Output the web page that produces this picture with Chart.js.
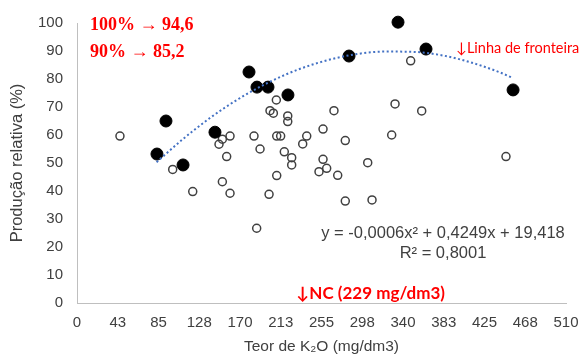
<!DOCTYPE html>
<html>
<head>
<meta charset="utf-8">
<script src="https://cdn.jsdelivr.net/npm/chart.js@4/dist/chart.umd.min.js"></script>
<style>
  html, body { margin: 0; padding: 0; background: #ffffff; }
  #wrap { width: 583px; height: 356px; position: relative; }
</style>
</head>
<body>
<div id="wrap"><canvas id="c" width="583" height="356"></canvas></div>
<script>
// ---- data ----
const xTickLabels = ['0','43','85','128','170','213','255','298','340','383','425','468','510'];

// frontier points (filled black)
const frontierX = [83.4, 92.8, 110.6, 143.9, 179.4, 187.7, 199.2, 220.0, 283.7, 334.8, 364.0, 454.8];
const frontierY = [53.2, 65.0, 49.3, 61.0, 82.5, 77.1, 77.1, 74.3, 88.2, 100.3, 90.7, 76.1];

// other points (open circles)
const otherX = [44.8, 99.8, 120.7, 148.1, 151.6, 159.6, 156.1, 151.6, 159.6, 184.6, 190.9, 187.4,
                207.9, 201.3, 204.8, 219.8, 219.8, 268.0, 348.0, 331.7, 359.5, 447.4,
                208.3, 212.4, 239.6, 235.4, 256.6, 279.8, 328.2, 216.2, 223.9, 223.9,
                256.6, 260.4, 252.4, 271.9, 303.2, 208.3, 200.3, 279.8, 307.7];
const otherY = [59.6, 47.7, 39.8, 56.7, 58.5, 59.6, 52.3, 43.3, 39.2, 59.6, 55.0, 26.7,
                72.5, 68.7, 67.8, 66.8, 64.8, 68.7, 86.5, 71.1, 68.6, 52.3,
                59.6, 59.6, 59.6, 56.8, 62.1, 58.0, 60.0, 54.0, 51.9, 49.3,
                51.3, 48.1, 46.9, 45.6, 50.1, 45.5, 38.8, 36.4, 36.8];

// frontier trend line (dotted)
const trendX = [83, 110, 140, 170, 200, 230, 260, 290, 320, 350, 380, 410, 440, 455];
const trendY = [50.3, 58.4, 66.4, 73.2, 78.8, 83.3, 86.6, 88.8, 89.8, 89.7, 88.5, 86.0, 82.5, 80.3];

const annot100 = '100% → 94,6';
const annot90 = '90% → 85,2';
const annotLine = '↓Linha de fronteira';
const ncValue = 229;
const annotNC = '↓NC (229 mg/dm3)';
const eqText = 'y = -0,0006x² + 0,4249x + 19,418';
const r2Text = 'R² = 0,8001';

const toPts = (xs, ys) => xs.map((x, i) => ({ x: x, y: ys[i] }));

const textPlugin = {
  id: 'texts',
  afterDatasetsDraw(chart) {
    const ctx = chart.ctx;
    const xs = chart.scales.x;
    ctx.save();
    ctx.textBaseline = 'middle';
    ctx.textAlign = 'left';
    ctx.fillStyle = '#ff0000';
    ctx.font = 'bold 18px "Liberation Serif"';
    ctx.fillText(annot100, 90, 25);
    ctx.fillText(annot90, 90, 52);
    ctx.font = '14.5px Lato';
    ctx.fillText(annotLine, 456, 48);
    ctx.font = 'bold 17px Lato';
    ctx.fillText(annotNC, xs.getPixelForValue(ncValue), 294);
    ctx.fillStyle = '#404040';
    ctx.textAlign = 'center';
    ctx.font = '16.5px "Liberation Sans"';
    ctx.fillText(eqText, 443, 233);
    ctx.fillText(r2Text, 443, 253);
    ctx.restore();
  }
};

new Chart(document.getElementById('c'), {
  type: 'scatter',
  data: {
    datasets: [
      {
        label: 'Linha de fronteira',
        data: toPts(trendX, trendY),
        showLine: true,
        borderColor: '#4472C4',
        borderWidth: 2,
        borderDash: [2, 2.5],
        pointRadius: 0,
        cubicInterpolationMode: 'monotone',
        fill: false,
        clip: false,
        order: 0
      },
      {
        label: 'Fronteira',
        data: toPts(frontierX, frontierY),
        backgroundColor: '#000000',
        borderColor: '#000000',
        borderWidth: 1,
        pointRadius: 6,
        clip: false,
        order: 1
      },
      {
        label: 'Outros',
        data: toPts(otherX, otherY),
        backgroundColor: 'rgba(0,0,0,0)',
        borderColor: '#404040',
        borderWidth: 1.5,
        pointRadius: 4,
        clip: false,
        order: 2
      }
    ]
  },
  options: {
    responsive: false,
    animation: false,
    events: [],
    layout: { padding: { left: 0, top: 23, right: 17, bottom: 0 } },
    plugins: { legend: { display: false }, tooltip: { enabled: false } },
    scales: {
      x: {
        type: 'linear',
        min: 0,
        max: 510,
        afterFit(scale) { scale.height = 53; scale.paddingRight = 0; scale.paddingLeft = 0; },
        grid: { display: true, color: 'rgba(0,0,0,0)', drawTicks: false },
        border: { display: true, color: '#bfbfbf', width: 1 },
        ticks: {
          stepSize: 42.5,
          autoSkip: false,
          maxRotation: 0,
          padding: 11,
          color: '#404040',
          font: { family: '"Liberation Sans"', size: 15 },
          callback: (v, i) => xTickLabels[i]
        },
        title: {
          display: true,
          text: 'Teor de K₂O (mg/dm3)',
          color: '#404040',
          font: { family: '"Liberation Sans"', size: 15.5 },
          padding: { top: 0, bottom: 0 }
        }
      },
      y: {
        min: 0,
        max: 100,
        afterFit(scale) { scale.width = 77; },
        grid: { display: true, color: 'rgba(0,0,0,0)', drawTicks: false },
        border: { display: true, color: '#bfbfbf', width: 1 },
        ticks: {
          stepSize: 10,
          padding: 14,
          color: '#404040',
          font: { family: '"Liberation Sans"', size: 15 }
        },
        title: {
          display: true,
          text: 'Produção relativa (%)',
          color: '#404040',
          font: { family: '"Liberation Sans"', size: 16.5 },
          padding: { top: 8, bottom: 0 }
        }
      }
    }
  },
  plugins: [textPlugin]
});
</script>
</body>
</html>
